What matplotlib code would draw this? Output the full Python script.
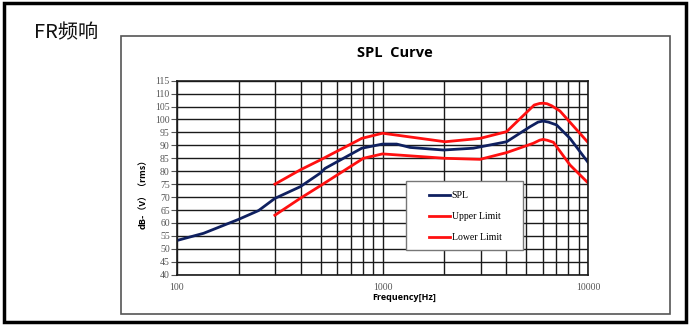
import numpy as np
import matplotlib.pyplot as plt
from matplotlib.patches import Rectangle
from matplotlib.ticker import LogLocator, NullFormatter, FixedLocator

W, H = 691, 327

freq_spl = [100, 135, 200, 250, 300, 398, 497, 526, 646, 793, 1000, 1172, 1361,
            1977, 2762, 4010, 5210, 5700, 6030, 6400, 7010, 8150, 10000]
spl = [53.2, 56.0, 61.4, 64.8, 69.5, 74.0, 79.2, 81.1, 85.0, 88.9, 90.5, 90.5, 89.2,
       88.2, 88.9, 91.4, 97.2, 99.0, 99.4, 99.0, 97.9, 92.7, 83.3]

freq_up = [300, 398, 497, 793, 1000, 2014, 2980, 4010, 5460, 5800, 6030, 6300, 6640,
           7280, 10000]
upper = [75.0, 80.5, 84.3, 92.7, 94.7, 91.4, 92.7, 95.3, 105.6, 106.2, 106.3, 106.1,
         105.3, 103.3, 91.0]

freq_lo = [300, 398, 497, 807, 1000, 2014, 2980, 4010, 5400, 5800, 6030, 6300, 6770,
           8150, 10000]
lower = [63.0, 69.5, 74.3, 85.0, 86.7, 85.0, 84.6, 87.2, 90.8, 92.0, 92.3, 92.0, 91.2,
         82.4, 75.4]

yticks = list(range(40, 116, 5))
xticks = [100, 1000, 10000]

fig = plt.figure(figsize=(W / 100, H / 100), dpi=100)

def fx(px): return px / W
def fy(py): return 1 - py / H

# outer frame and chart box
fig.patches.append(Rectangle((fx(4), fy(322)), fx(682), 319 / H, transform=fig.transFigure,
                             fill=False, ec='black', lw=2.5, zorder=0))
fig.patches.append(Rectangle((fx(121), fy(314)), fx(549), 278 / H, transform=fig.transFigure,
                             fill=False, ec='#555555', lw=1.2, zorder=0))

fig.text(fx(34), fy(33), 'FR频响', fontsize=14.5, family=['Noto Sans CJK SC', 'DejaVu Sans'],
         va='center', ha='left', color='#111111')
fig.text(fx(395), fy(53), 'SPL  Curve', fontsize=10.5, fontweight='bold',
         family='Open Sans', ha='center', va='center')

ax = fig.add_axes([fx(176.7), fy(274.7), (588.3 - 176.7) / W, (274.7 - 80.7) / H])
ax.set_xscale('log')
ax.set_xlim(100, 10000)
ax.set_ylim(40, 115)
ax.xaxis.set_major_locator(FixedLocator(xticks))
ax.xaxis.set_minor_locator(LogLocator(base=10, subs=np.arange(2, 10)))
ax.xaxis.set_minor_formatter(NullFormatter())
ax.set_xticklabels([str(t) for t in xticks])
ax.set_yticks(yticks)
ax.grid(True, which='both', color='#1a1a1a', lw=1.0)
ax.set_axisbelow(True)
for s in ax.spines.values():
    s.set_color('#1a1a1a'); s.set_linewidth(1.2)
ax.tick_params(axis='y', length=4, width=0.8, colors='#555555', labelsize=7, pad=1)
ax.tick_params(axis='x', which='both', length=0, colors='#555555', labelsize=7, pad=6)
for lab in ax.get_xticklabels() + ax.get_yticklabels():
    lab.set_family('Liberation Serif')

l1, = ax.plot(freq_spl, spl, color='#0f2060', lw=2, label='SPL')
l2, = ax.plot(freq_up, upper, color='#ff1010', lw=2, label='Upper Limit')
l3, = ax.plot(freq_lo, lower, color='#ff1010', lw=2, label='Lower Limit')

fig.text(fx(143), fy(192), 'dB-（V）（rms）', rotation=90, fontsize=6.5, fontweight='bold',
         family=['Noto Sans CJK SC', 'DejaVu Sans'], ha='center', va='center')
fig.text(fx(404), fy(298), 'Frequency[Hz]', fontsize=6.5, fontweight='bold',
         family='Open Sans', ha='center', va='center')

# legend box
fig.patches.append(Rectangle((fx(406), fy(250)), 117 / W, 69 / H, transform=fig.transFigure,
                             fc='white', ec='#777777', lw=1.0, zorder=3))
fig.legend(handles=[l1, l2, l3], loc='upper left', bbox_to_anchor=(fx(429), fy(191)),
           frameon=False, borderpad=0, borderaxespad=0, handlelength=2.2,
           handletextpad=0.15, labelspacing=1.25,
           prop={'family': 'Liberation Serif', 'size': 7})

fig.savefig('out.png', dpi=100, facecolor='white')
